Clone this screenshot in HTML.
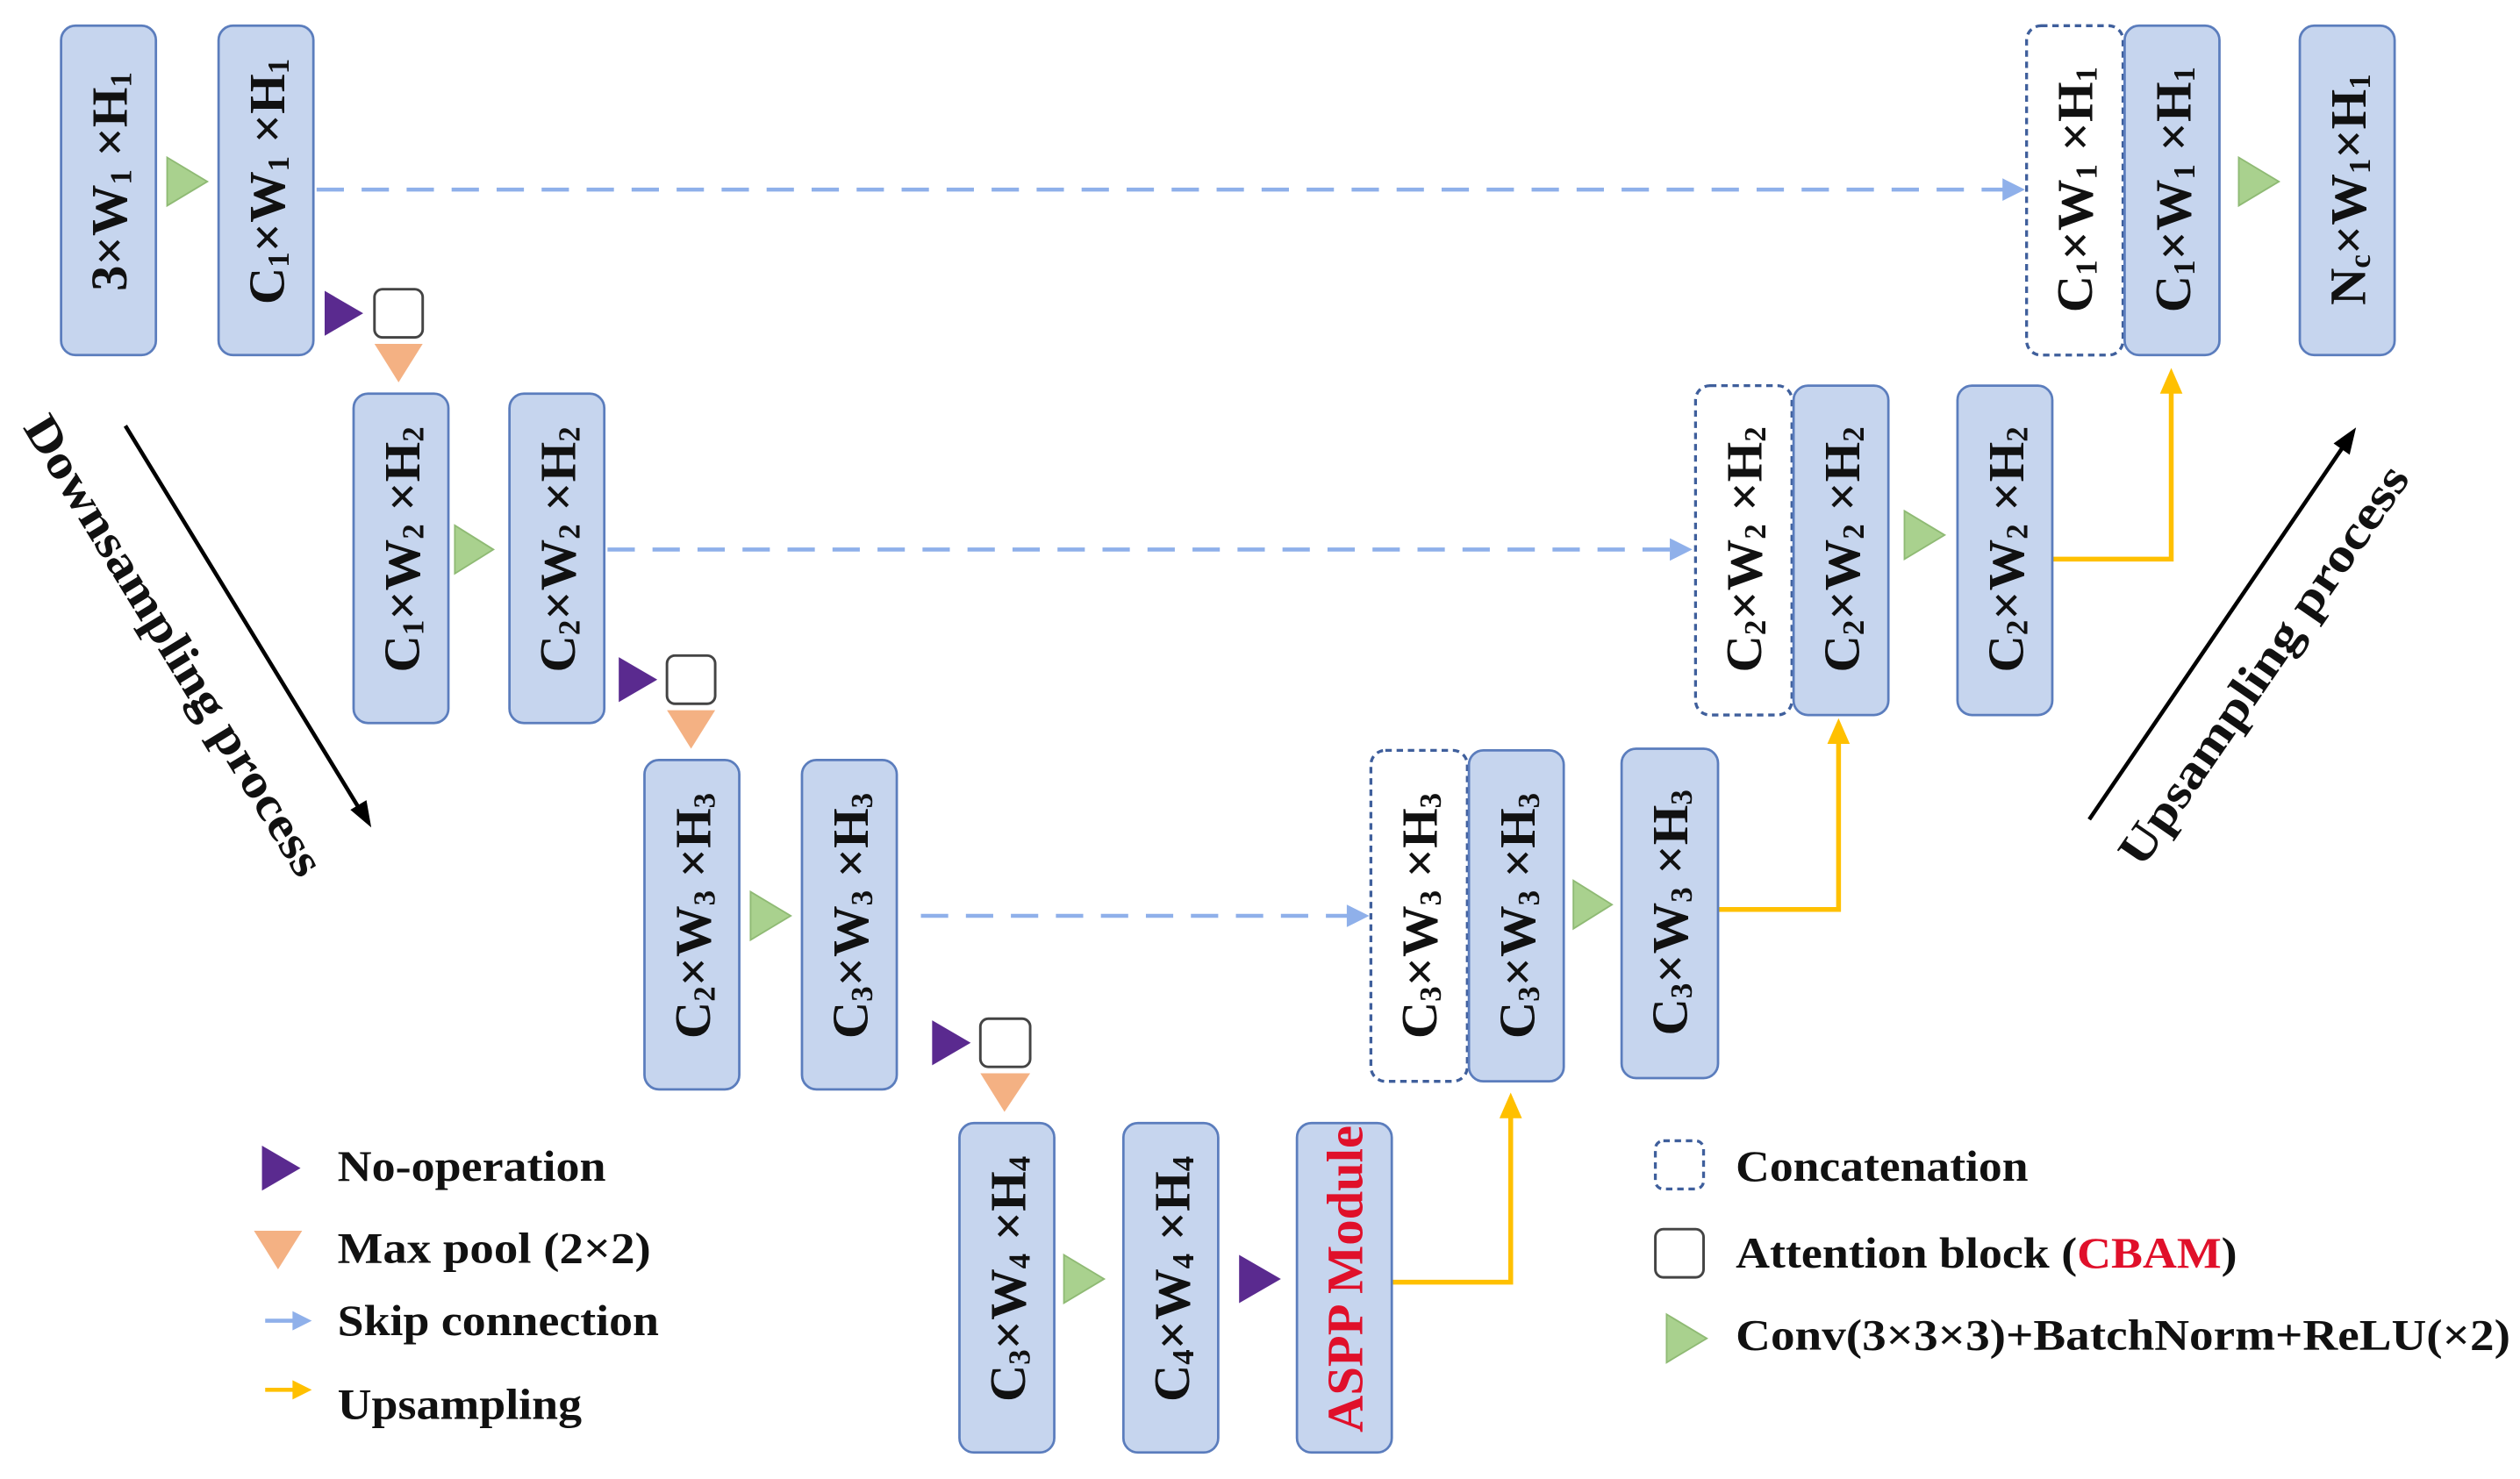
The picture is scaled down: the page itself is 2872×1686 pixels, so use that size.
<!DOCTYPE html>
<html><head><meta charset="utf-8"><style>
html,body{margin:0;padding:0;background:#fff;}
svg{display:block;font-family:"Liberation Serif","Times New Roman","DejaVu Serif",serif;}
text{font-family:"Liberation Serif","Times New Roman","DejaVu Serif",serif;font-weight:bold;}
.b{fill:#c6d5ee;stroke:#5b7dbd;stroke-width:1.5;}
.d{fill:#fff;stroke:#3f5f9c;stroke-width:1.8;stroke-dasharray:4 3;}
.t{font-size:32px;fill:#111;}
.s{font-size:19px;}
.sk{stroke:#8fb0ea;stroke-width:2.5;stroke-dasharray:17 11;fill:none;}
.y{stroke:#ffc000;stroke-width:3;fill:none;}
.g{fill:#a9d18e;stroke:#8fba74;stroke-width:1;}
.p{fill:#5a2a8f;}
.o{fill:#f4b183;}
.a{fill:#fff;stroke:#444;stroke-width:1.6;}
.l{font-size:27px;fill:#111;}
</style></head><body>
<svg width="2872" height="1686" viewBox="0 0 1568 920.5" xmlns="http://www.w3.org/2000/svg" font-family="Liberation Serif, serif">

<path class="sk" d="M197,118 L1250,118"/>
<path class="sk" d="M378,342 L1043,342"/>
<path class="sk" d="M573,570 L842,570"/>
<path d="M1246,111 L1260,118 L1246,125Z" fill="#8fb0ea"/>
<path d="M1039,335 L1053,342 L1039,349Z" fill="#8fb0ea"/>
<path d="M838,563 L852,570 L838,577Z" fill="#8fb0ea"/>

<path class="y" d="M866,798 L940,798 L940,694"/>
<path d="M933,696 L940,680 L947,696Z" fill="#ffc000"/>
<path class="y" d="M1069,566 L1144,566 L1144,461"/>
<path d="M1137,463 L1144,447 L1151,463Z" fill="#ffc000"/>
<path class="y" d="M1277,348 L1351,348 L1351,243"/>
<path d="M1344,245 L1351,229 L1358,245Z" fill="#ffc000"/>

<rect class="b" x="38" y="16" width="59" height="205" rx="9"/>
<rect class="b" x="136" y="16" width="59" height="205" rx="9"/>
<rect class="b" x="220" y="245" width="59" height="205" rx="9"/>
<rect class="b" x="317" y="245" width="59" height="205" rx="9"/>
<rect class="b" x="401" y="473" width="59" height="205" rx="9"/>
<rect class="b" x="499" y="473" width="59" height="205" rx="9"/>
<rect class="b" x="597" y="699" width="59" height="205" rx="9"/>
<rect class="b" x="699" y="699" width="59" height="205" rx="9"/>
<rect class="b" x="807" y="699" width="59" height="205" rx="9"/>
<rect class="d" x="853" y="467" width="60" height="206" rx="9"/>
<rect class="b" x="914" y="467" width="59" height="206" rx="9"/>
<rect class="b" x="1009" y="466" width="60" height="205" rx="9"/>
<rect class="d" x="1055" y="240" width="60" height="205" rx="9"/>
<rect class="b" x="1116" y="240" width="59" height="205" rx="9"/>
<rect class="b" x="1218" y="240" width="59" height="205" rx="9"/>
<rect class="d" x="1261" y="16" width="60" height="205" rx="9"/>
<rect class="b" x="1322" y="16" width="59" height="205" rx="9"/>
<rect class="b" x="1431" y="16" width="59" height="205" rx="9"/>

<path class="g" d="M104,98 L129,113 L104,128Z"/>
<path class="g" d="M283,327 L307,342 L283,357Z"/>
<path class="g" d="M467,555 L492,570 L467,585Z"/>
<path class="g" d="M662,781 L687,796 L662,811Z"/>
<path class="g" d="M979,548 L1003,563 L979,578Z"/>
<path class="g" d="M1185,318 L1210,333 L1185,348Z"/>
<path class="g" d="M1393,98 L1418,113 L1393,128Z"/>

<path class="p" d="M202,181 L226,195 L202,209Z"/>
<path class="p" d="M385,409 L409,423 L385,437Z"/>
<path class="p" d="M580,635 L604,649 L580,663Z"/>
<path class="p" d="M771,781 L797,796 L771,811Z"/>
<rect class="a" x="233" y="180" width="30" height="30" rx="5"/>
<rect class="a" x="415" y="408" width="30" height="30" rx="5"/>
<rect class="a" x="610" y="634" width="31" height="30" rx="5"/>
<path class="o" d="M233,214 L263,214 L248,238Z"/>
<path class="o" d="M415,442 L445,442 L430,466Z"/>
<path class="o" d="M610,668 L641,668 L625,692Z"/>

<g class="t" text-anchor="middle" dominant-baseline="central">
<text transform="translate(68,113) rotate(-90)">3×W<tspan class="s" dy="7">1</tspan><tspan dy="-7"> ×H</tspan><tspan class="s" dy="7">1</tspan></text>
<text transform="translate(166,113) rotate(-90)">C<tspan class="s" dy="7">1</tspan><tspan dy="-7">×W</tspan><tspan class="s" dy="7">1</tspan><tspan dy="-7"> ×H</tspan><tspan class="s" dy="7">1</tspan></text>
<text transform="translate(250,342) rotate(-90)">C<tspan class="s" dy="7">1</tspan><tspan dy="-7">×W</tspan><tspan class="s" dy="7">2</tspan><tspan dy="-7"> ×H</tspan><tspan class="s" dy="7">2</tspan></text>
<text transform="translate(347,342) rotate(-90)">C<tspan class="s" dy="7">2</tspan><tspan dy="-7">×W</tspan><tspan class="s" dy="7">2</tspan><tspan dy="-7"> ×H</tspan><tspan class="s" dy="7">2</tspan></text>
<text transform="translate(431,570) rotate(-90)">C<tspan class="s" dy="7">2</tspan><tspan dy="-7">×W</tspan><tspan class="s" dy="7">3</tspan><tspan dy="-7"> ×H</tspan><tspan class="s" dy="7">3</tspan></text>
<text transform="translate(529,570) rotate(-90)">C<tspan class="s" dy="7">3</tspan><tspan dy="-7">×W</tspan><tspan class="s" dy="7">3</tspan><tspan dy="-7"> ×H</tspan><tspan class="s" dy="7">3</tspan></text>
<text transform="translate(627,796) rotate(-90)">C<tspan class="s" dy="7">3</tspan><tspan dy="-7">×W</tspan><tspan class="s" dy="7">4</tspan><tspan dy="-7"> ×H</tspan><tspan class="s" dy="7">4</tspan></text>
<text transform="translate(729,796) rotate(-90)">C<tspan class="s" dy="7">4</tspan><tspan dy="-7">×W</tspan><tspan class="s" dy="7">4</tspan><tspan dy="-7"> ×H</tspan><tspan class="s" dy="7">4</tspan></text>
<text transform="translate(837,796) rotate(-90)" fill="#e0102a">ASPP Module</text>
<text transform="translate(883,570) rotate(-90)">C<tspan class="s" dy="7">3</tspan><tspan dy="-7">×W</tspan><tspan class="s" dy="7">3</tspan><tspan dy="-7"> ×H</tspan><tspan class="s" dy="7">3</tspan></text>
<text transform="translate(944,570) rotate(-90)">C<tspan class="s" dy="7">3</tspan><tspan dy="-7">×W</tspan><tspan class="s" dy="7">3</tspan><tspan dy="-7"> ×H</tspan><tspan class="s" dy="7">3</tspan></text>
<text transform="translate(1039,568) rotate(-90)">C<tspan class="s" dy="7">3</tspan><tspan dy="-7">×W</tspan><tspan class="s" dy="7">3</tspan><tspan dy="-7"> ×H</tspan><tspan class="s" dy="7">3</tspan></text>
<text transform="translate(1085,342) rotate(-90)">C<tspan class="s" dy="7">2</tspan><tspan dy="-7">×W</tspan><tspan class="s" dy="7">2</tspan><tspan dy="-7"> ×H</tspan><tspan class="s" dy="7">2</tspan></text>
<text transform="translate(1146,342) rotate(-90)">C<tspan class="s" dy="7">2</tspan><tspan dy="-7">×W</tspan><tspan class="s" dy="7">2</tspan><tspan dy="-7"> ×H</tspan><tspan class="s" dy="7">2</tspan></text>
<text transform="translate(1248,342) rotate(-90)">C<tspan class="s" dy="7">2</tspan><tspan dy="-7">×W</tspan><tspan class="s" dy="7">2</tspan><tspan dy="-7"> ×H</tspan><tspan class="s" dy="7">2</tspan></text>
<text transform="translate(1291,118) rotate(-90)">C<tspan class="s" dy="7">1</tspan><tspan dy="-7">×W</tspan><tspan class="s" dy="7">1</tspan><tspan dy="-7"> ×H</tspan><tspan class="s" dy="7">1</tspan></text>
<text transform="translate(1352,118) rotate(-90)">C<tspan class="s" dy="7">1</tspan><tspan dy="-7">×W</tspan><tspan class="s" dy="7">1</tspan><tspan dy="-7"> ×H</tspan><tspan class="s" dy="7">1</tspan></text>
<text transform="translate(1461,118) rotate(-90)">N<tspan class="s" dy="7">c</tspan><tspan dy="-7">×W</tspan><tspan class="s" dy="7">1</tspan><tspan dy="-7">×H</tspan><tspan class="s" dy="7">1</tspan></text>
</g>

<line x1="78" y1="265" x2="224" y2="504" stroke="#000" stroke-width="2.5"/>
<path d="M231,515 L218,504 L228,498Z" fill="#000" transform="rotate(0)"/>
<text class="l" transform="translate(14,266) rotate(58.6)" style="font-size:30px" textLength="330" lengthAdjust="spacingAndGlyphs">Downsampling process</text>
<line x1="1300" y1="510" x2="1458" y2="278" stroke="#000" stroke-width="2.5"/>
<path d="M1466,266 L1462,283 L1452,276Z" fill="#000"/>
<text class="l" transform="translate(1333,541) rotate(-55.5)" style="font-size:30px" textLength="295" lengthAdjust="spacingAndGlyphs">Upsampling process</text>

<path class="p" d="M163,713 L187,727 L163,741Z"/>
<text class="l" x="210" y="735" textLength="167" lengthAdjust="spacingAndGlyphs">No-operation</text>
<path class="o" d="M158,766 L188,766 L173,790Z"/>
<text class="l" x="210" y="786" textLength="195" lengthAdjust="spacingAndGlyphs">Max pool (2×2)</text>
<line x1="165" y1="822" x2="185" y2="822" stroke="#8fb0ea" stroke-width="2.5"/>
<path d="M182,816 L194,822 L182,828Z" fill="#8fb0ea"/>
<text class="l" x="210" y="831" textLength="200" lengthAdjust="spacingAndGlyphs">Skip connection</text>
<line x1="165" y1="865" x2="185" y2="865" stroke="#ffc000" stroke-width="2.5"/>
<path d="M182,859 L194,865 L182,871Z" fill="#ffc000"/>
<text class="l" x="210" y="883" textLength="152" lengthAdjust="spacingAndGlyphs">Upsampling</text>

<rect class="d" x="1030" y="710" width="30" height="30" rx="5"/>
<text class="l" x="1080" y="735" textLength="182" lengthAdjust="spacingAndGlyphs">Concatenation</text>
<rect class="a" x="1030" y="765" width="30" height="30" rx="5"/>
<text class="l" x="1080" y="789" textLength="312" lengthAdjust="spacingAndGlyphs">Attention block (<tspan fill="#e0102a">CBAM</tspan>)</text>
<path class="g" d="M1037,818 L1062,833 L1037,848Z"/>
<text class="l" x="1080" y="840" textLength="482" lengthAdjust="spacingAndGlyphs">Conv(3×3×3)+BatchNorm+ReLU(×2)</text>
</svg>
</body></html>
